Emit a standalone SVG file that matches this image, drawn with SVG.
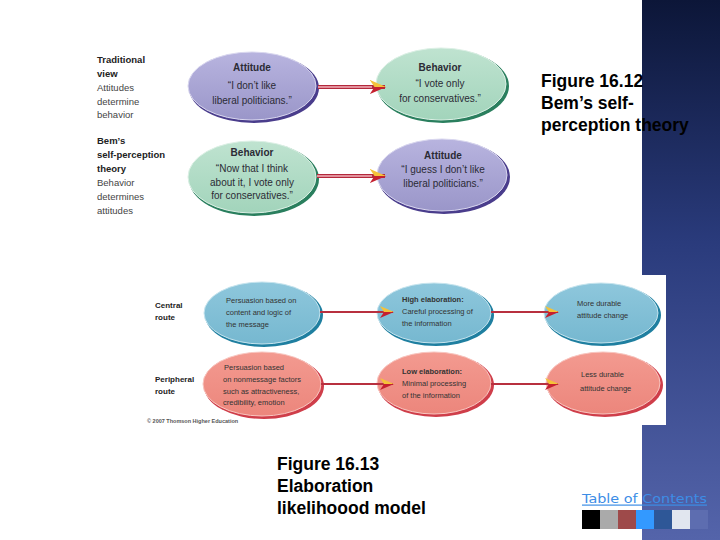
<svg xmlns="http://www.w3.org/2000/svg" width="720" height="540" viewBox="0 0 720 540">
<defs>
<linearGradient id="panel" x1="0" y1="0" x2="0" y2="1">
<stop offset="0" stop-color="#0c1638"/>
<stop offset="0.45" stop-color="#2a3b7c"/>
<stop offset="1" stop-color="#5464aa"/>
</linearGradient>
<linearGradient id="gPur" x1="0" y1="0" x2="0" y2="1">
<stop offset="0" stop-color="#b8b4df"/>
<stop offset="1" stop-color="#9a96c9"/>
</linearGradient>
<linearGradient id="gGrn" x1="0" y1="0" x2="0" y2="1">
<stop offset="0" stop-color="#bfe3d0"/>
<stop offset="1" stop-color="#a2d4bb"/>
</linearGradient>
<linearGradient id="gBlu" x1="0" y1="0" x2="0" y2="1">
<stop offset="0" stop-color="#8ec7dc"/>
<stop offset="1" stop-color="#76b8d0"/>
</linearGradient>
<linearGradient id="gRed" x1="0" y1="0" x2="0" y2="1">
<stop offset="0" stop-color="#f39a90"/>
<stop offset="1" stop-color="#ec867c"/>
</linearGradient>
<marker id="ahBig" viewBox="0 0 14 12" refX="13" refY="6" markerWidth="17" markerHeight="14" markerUnits="userSpaceOnUse" orient="auto">
<path d="M0,0 L14,6 L4,6 Z" fill="#f4c23a"/>
<path d="M4,6 L14,6 L0,12 Z" fill="#c5202f"/>
</marker>
<marker id="ahSm" viewBox="0 0 14 12" refX="13" refY="6" markerWidth="14" markerHeight="12" markerUnits="userSpaceOnUse" orient="auto">
<path d="M0,0 L14,6 L4,6 Z" fill="#f4c23a"/>
<path d="M4,6 L14,6 L0,12 Z" fill="#c5202f"/>
</marker>
</defs>
<style>
text{font-family:"Liberation Sans",Arial,sans-serif;}
.lb{font-size:9.5px;font-weight:bold;fill:#222;}
.lr{font-size:9.5px;fill:#444;}
.t{font-size:10px;fill:#2b2b35;text-anchor:middle;}
.tb{font-size:10px;font-weight:bold;fill:#2b2b35;text-anchor:middle;}
.s{font-size:7.5px;fill:#333;}
.sb{font-size:7.5px;font-weight:bold;fill:#333;}
.rb{font-size:8px;font-weight:bold;fill:#222;}
.fig{font-size:17.5px;font-weight:bold;fill:#000;}
.rimP{fill:#4a3d8c;} .rimG{fill:#2a7f5e;} .rimB{fill:#1f7fa0;} .rimR{fill:#cf3e4a;}
.fP{fill:url(#gPur);stroke:#d9d7ef;stroke-width:1;}
.fG{fill:url(#gGrn);stroke:#dcf0e5;stroke-width:1;}
.fB{fill:url(#gBlu);stroke:#c6e4ee;stroke-width:1;}
.fR{fill:url(#gRed);stroke:#f8c6c0;stroke-width:1;}
.aOut{stroke:#b3283c;stroke-width:4;fill:none;}
.aIn{stroke:#f2b5bd;stroke-width:1.5;fill:none;}
.aSm{stroke:#b8303f;stroke-width:2;fill:none;}
</style>
<rect x="0" y="0" width="720" height="540" fill="#fff"/>
<rect id="panel-bg" x="642" y="0" width="78" height="540" fill="url(#panel)"/>
<rect x="140" y="275" width="526" height="150" fill="#fff"/>

<g id="labels-top">
<text class="lb" x="97" y="63">Traditional</text>
<text class="lb" x="97" y="77">view</text>
<text class="lr" x="97" y="91">Attitudes</text>
<text class="lr" x="97" y="105">determine</text>
<text class="lr" x="97" y="118">behavior</text>
<text class="lb" x="97" y="144">Bem’s</text>
<text class="lb" x="97" y="158">self-perception</text>
<text class="lb" x="97" y="172">theory</text>
<text class="lr" x="97" y="186">Behavior</text>
<text class="lr" x="97" y="200">determines</text>
<text class="lr" x="97" y="214">attitudes</text>
</g>

<g id="n-attitude1">
<ellipse class="rimP" cx="254" cy="88" rx="65" ry="35"/>
<ellipse class="fP" cx="252" cy="86" rx="64" ry="34"/>
<text class="tb" x="252" y="71">Attitude</text>
<text class="t" x="252" y="89">“I don’t like</text>
<text class="t" x="252" y="104">liberal politicians.”</text>
</g>
<g id="n-behavior1">
<ellipse class="rimG" cx="443" cy="86" rx="66" ry="37"/>
<ellipse class="fG" cx="441" cy="84" rx="65" ry="36"/>
<text class="tb" x="440" y="71">Behavior</text>
<text class="t" x="440" y="87">“I vote only</text>
<text class="t" x="440" y="102">for conservatives.”</text>
</g>
<g id="n-behavior2">
<ellipse class="rimG" cx="254" cy="179" rx="65" ry="37"/>
<ellipse class="fG" cx="252" cy="177" rx="64" ry="36"/>
<text class="tb" x="252" y="156">Behavior</text>
<text class="t" x="252" y="172">“Now that I think</text>
<text class="t" x="252" y="186">about it, I vote only</text>
<text class="t" x="252" y="199">for conservatives.”</text>
</g>
<g id="n-attitude2">
<ellipse class="rimP" cx="444" cy="177" rx="66" ry="37"/>
<ellipse class="fP" cx="442" cy="175" rx="65" ry="36"/>
<text class="tb" x="443" y="159">Attitude</text>
<text class="t" x="443" y="173">“I guess I don’t like</text>
<text class="t" x="443" y="187">liberal politicians.”</text>
</g>

<g id="labels-bottom">
<text class="rb" x="155" y="308">Central</text>
<text class="rb" x="155" y="320">route</text>
<text class="rb" x="155" y="382">Peripheral</text>
<text class="rb" x="155" y="394">route</text>
<text x="147" y="423" style="font-size:5.5px;font-weight:bold;fill:#555;">© 2007 Thomson Higher Education</text>
</g>

<g id="n-central">
<ellipse class="rimB" cx="264" cy="315" rx="59" ry="32"/>
<ellipse class="fB" cx="262" cy="313" rx="58" ry="31"/>
<text class="s" x="226" y="303">Persuasion based on</text>
<text class="s" x="226" y="315">content and logic of</text>
<text class="s" x="226" y="327">the message</text>
</g>
<g id="n-high">
<ellipse class="rimB" cx="436" cy="315" rx="58" ry="31"/>
<ellipse class="fB" cx="434" cy="313" rx="57" ry="30"/>
<text class="sb" x="402" y="302">High elaboration:</text>
<text class="s" x="402" y="314">Careful processing of</text>
<text class="s" x="402" y="326">the information</text>
</g>
<g id="n-more">
<ellipse class="rimB" cx="603" cy="315" rx="58" ry="31"/>
<ellipse class="fB" cx="601" cy="313" rx="57" ry="30"/>
<text class="s" x="577" y="306">More durable</text>
<text class="s" x="577" y="318">attitude change</text>
</g>
<g id="n-peripheral">
<ellipse class="rimR" cx="264" cy="386" rx="60" ry="33"/>
<ellipse class="fR" cx="262" cy="384" rx="59" ry="32"/>
<text class="s" x="224" y="370">Persuasion based</text>
<text class="s" x="223" y="382">on nonmessage factors</text>
<text class="s" x="223" y="394">such as attractiveness,</text>
<text class="s" x="223" y="405">credibility, emotion</text>
</g>
<g id="n-low">
<ellipse class="rimR" cx="436" cy="385" rx="58" ry="32"/>
<ellipse class="fR" cx="434" cy="383" rx="57" ry="31"/>
<text class="sb" x="402" y="374">Low elaboration:</text>
<text class="s" x="402" y="386">Minimal processing</text>
<text class="s" x="402" y="398">of the information</text>
</g>
<g id="n-less">
<ellipse class="rimR" cx="605" cy="385" rx="58" ry="32"/>
<ellipse class="fR" cx="603" cy="383" rx="57" ry="31"/>
<text class="s" x="581" y="377">Less durable</text>
<text class="s" x="580" y="391">attitude change</text>
</g>

<g id="connectors">
<line class="aOut" x1="318" y1="87" x2="385" y2="87" marker-end="url(#ahBig)"/>
<line class="aIn" x1="318" y1="87" x2="372" y2="87"/>
<line class="aOut" x1="317" y1="176" x2="385" y2="176" marker-end="url(#ahBig)"/>
<line class="aIn" x1="317" y1="176" x2="372" y2="176"/>
<line class="aSm" x1="320" y1="312" x2="393" y2="312" marker-end="url(#ahSm)"/>
<line class="aSm" x1="491" y1="312" x2="558" y2="312" marker-end="url(#ahSm)"/>
<line class="aSm" x1="321" y1="384" x2="393" y2="384" marker-end="url(#ahSm)"/>
<line class="aSm" x1="491" y1="384" x2="558" y2="384" marker-end="url(#ahSm)"/>
</g>

<g id="captions">
<text class="fig" x="541" y="87">Figure 16.12</text>
<text class="fig" x="541" y="109">Bem’s self-</text>
<text class="fig" x="541" y="131">perception theory</text>
<text class="fig" x="277" y="470">Figure 16.13</text>
<text class="fig" x="277" y="492">Elaboration</text>
<text class="fig" x="277" y="514">likelihoood model</text>
</g>

<g id="toc">
<text x="582" y="503" style="font-family:'DejaVu Sans',Verdana,sans-serif;font-size:13px;fill:#3d8de6;" textLength="125" lengthAdjust="spacingAndGlyphs">Table of Contents</text>
<rect x="582" y="504.5" width="125" height="1.2" fill="#3d8de6"/>
<rect x="582" y="510" width="18" height="19" fill="#000"/>
<rect x="600" y="510" width="18" height="19" fill="#aaaaaa"/>
<rect x="618" y="510" width="18" height="19" fill="#9e4a4a"/>
<rect x="636" y="510" width="18" height="19" fill="#3399ff"/>
<rect x="654" y="510" width="18" height="19" fill="#2e5797"/>
<rect x="672" y="510" width="18" height="19" fill="#e1e6ef"/>
<rect x="690" y="510" width="18" height="19" fill="#5d6db0"/>
</g>
</svg>
